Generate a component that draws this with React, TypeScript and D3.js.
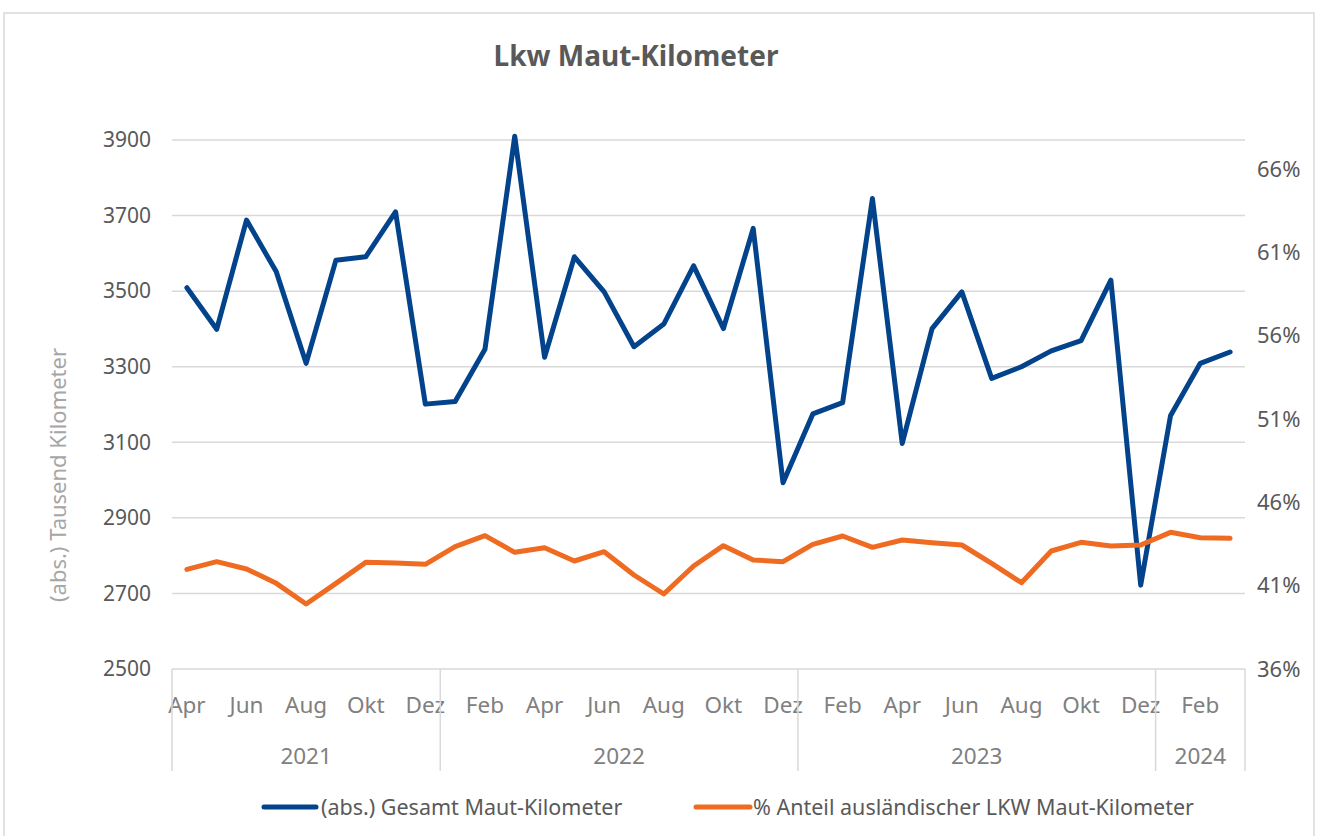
import * as d3 from "d3";

// months Apr 2021 .. Mar 2024
const monthNames = ["Jan", "Feb", "Mar", "Apr", "Mai", "Jun", "Jul", "Aug", "Sep", "Okt", "Nov", "Dez"];
const years = [2021, 2022, 2023, 2024];
const monthsPerYear = [9, 12, 12, 3];

// (abs.) Gesamt Maut-Kilometer, Tausend km
const gesamt = [
  3509, 3399, 3688, 3551, 3309, 3582, 3591, 3710, 3201,
  3208, 3346, 3910, 3325, 3591, 3498, 3353, 3413, 3567, 3401, 3666, 2993,
  3175, 3205, 3745, 3097, 3401, 3498, 3269, 3300, 3342, 3369, 3529, 2722,
  3170, 3309, 3339,
];

// % Anteil ausländischer LKW Maut-Kilometer
const anteil = [
  41.98, 42.44, 42.0, 41.14, 39.9, 41.14, 42.4, 42.36, 42.28,
  43.34, 44.0, 43.0, 43.28, 42.48, 43.04, 41.64, 40.5, 42.18, 43.4, 42.54, 42.44,
  43.48, 43.98, 43.3, 43.74, 43.58, 43.44, 42.34, 41.18, 43.08, 43.6, 43.38, 43.44,
  44.2, 43.88, 43.84,
];

const leftTicks = [2500, 2700, 2900, 3100, 3300, 3500, 3700, 3900];
const rightTicks = [36, 41, 46, 51, 56, 61, 66];

const W = 1319;
const H = 836;
const font = "'Noto Sans', sans-serif";
const blue = "#02438C";
const orange = "#EE6B21";

// build month keys
const months: { key: string; m: number; year: number }[] = [];
years.forEach((y, yi) => {
  const start = yi === 0 ? 3 : 0;
  for (let k = 0; k < monthsPerYear[yi]; k++) {
    months.push({ key: `${y}-${start + k}`, m: start + k, year: y });
  }
});

export default function App() {
  const left = 172;
  const right = 1245;
  const bottom = 669;

  const x = d3.scaleBand().domain(months.map((d) => d.key)).range([left, right]);
  const cx = (i: number) => (x(months[i].key) as number) + x.bandwidth() / 2;
  const yL = d3.scaleLinear().domain([2500, 3900]).range([bottom, 140]);
  const yR = d3.scaleLinear().domain([36, 66]).range([bottom, 169]);

  const lineL = d3.line<number>().x((d, i) => cx(i)).y((d) => yL(d));
  const lineR = d3.line<number>().x((d, i) => cx(i)).y((d) => yR(d));

  // year boundaries
  const bounds: number[] = [left];
  let acc = 0;
  monthsPerYear.forEach((n) => {
    acc += n;
    bounds.push(x(months[acc - 1].key)! + x.bandwidth());
  });

  return (
    <svg width={W} height={H} style={{ position: "absolute", left: 0, top: 0 }} fontFamily={font}>
      <rect x={0} y={0} width={W} height={H} fill="#fff" />
      <rect x={4} y={13} width={1310} height={H} fill="none" stroke="#d9d9d9" strokeWidth={1.5} />
      <text x={636} y={66} textAnchor="middle" fontSize={28} fontWeight="bold" fill="#595959">
        Lkw Maut-Kilometer
      </text>

      {leftTicks.map((t) => (
        <g key={t}>
          <line x1={left} x2={right} y1={yL(t)} y2={yL(t)} stroke="#d9d9d9" strokeWidth={1.5} />
          <text x={151} y={yL(t)} dy="0.35em" textAnchor="end" fontSize={21} fill="#595959">
            {t}
          </text>
        </g>
      ))}
      {rightTicks.map((t) => (
        <text key={t} x={1257} y={yR(t)} dy="0.35em" fontSize={22} fill="#595959">
          {t}%
        </text>
      ))}

      <text
        transform={`translate(66,475) rotate(-90)`}
        textAnchor="middle"
        fontSize={22}
        fill="#a6a6a6"
      >
        (abs.) Tausend Kilometer
      </text>

      {months.map((d, i) =>
        i % 2 === 0 ? (
          <text key={d.key} x={cx(i)} y={705} dy="0.35em" textAnchor="middle" fontSize={22.5} fill="#808080">
            {monthNames[d.m]}
          </text>
        ) : null
      )}
      {bounds.map((b, i) => (
        <line key={i} x1={b} x2={b} y1={bottom} y2={771} stroke="#d9d9d9" strokeWidth={1.5} />
      ))}
      {years.map((y, i) => (
        <text key={y} x={(bounds[i] + bounds[i + 1]) / 2} y={756} dy="0.35em" textAnchor="middle" fontSize={22.5} fill="#808080">
          {y}
        </text>
      ))}

      <path d={lineL(gesamt)!} fill="none" stroke={blue} strokeWidth={5} strokeLinejoin="round" strokeLinecap="round" />
      <path d={lineR(anteil)!} fill="none" stroke={orange} strokeWidth={5} strokeLinejoin="round" strokeLinecap="round" />

      <line x1={264} x2={316} y1={807} y2={807} stroke={blue} strokeWidth={5} strokeLinecap="round" />
      <text x={321} y={807} dy="0.35em" fontSize={21.5} fill="#595959">
        (abs.) Gesamt Maut-Kilometer
      </text>
      <line x1={696} x2={750} y1={807} y2={807} stroke={orange} strokeWidth={5} strokeLinecap="round" />
      <text x={753} y={807} dy="0.35em" fontSize={21.5} fill="#595959">
        % Anteil ausländischer LKW Maut-Kilometer
      </text>
    </svg>
  );
}
